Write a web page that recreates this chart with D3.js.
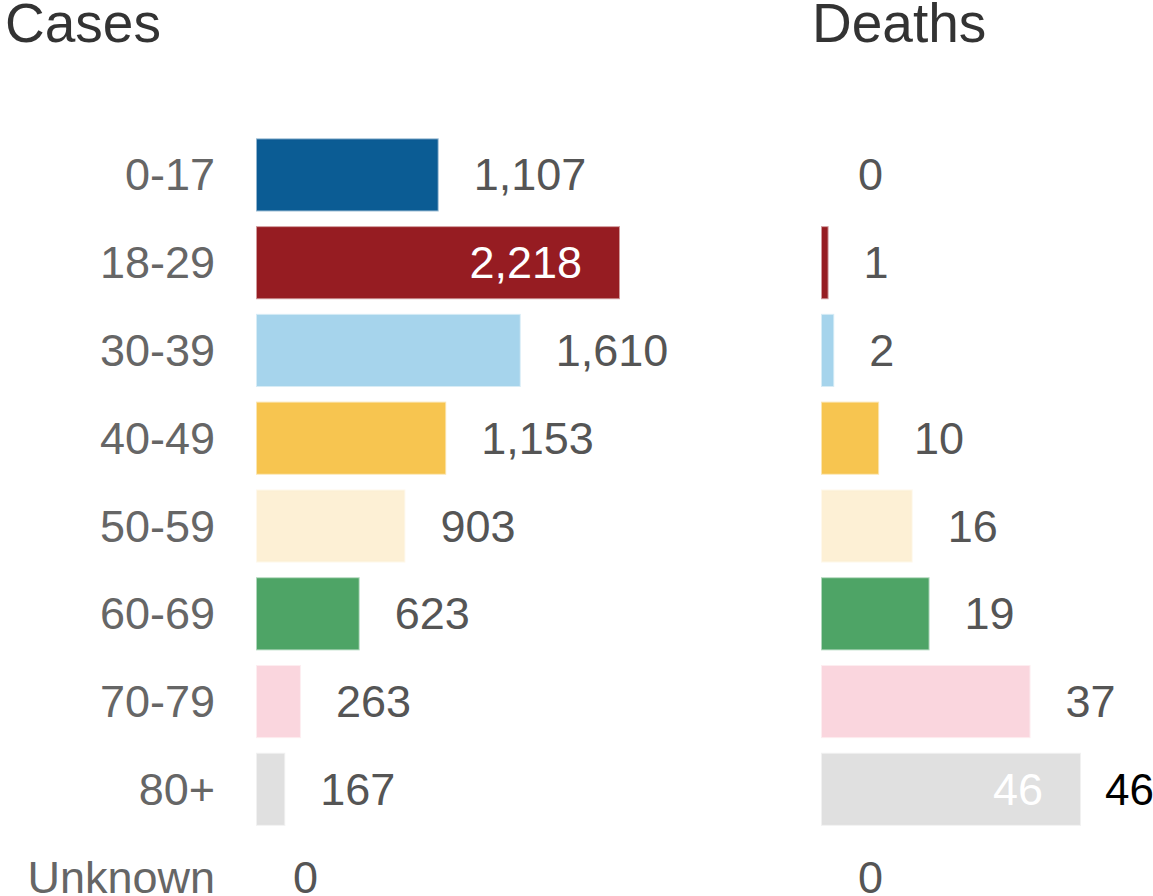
<!DOCTYPE html>
<html>
<head>
<meta charset="utf-8">
<script src="https://cdn.jsdelivr.net/npm/d3@7"></script>
<style>
  html, body { margin: 0; padding: 0; background: #fff; }
  svg { display: block; font-family: "Liberation Sans", Arial, sans-serif; }
</style>
</head>
<body>
<div id="chart"></div>
<script>
/** age groups and counts */
const ageGroups = ["0-17", "18-29", "30-39", "40-49", "50-59", "60-69", "70-79", "80+", "Unknown"];
const cases = [1107, 2218, 1610, 1153, 903, 623, 263, 167, 0];
const deaths = [0, 1, 2, 10, 16, 19, 37, 46, 0];
const groupColors = ["#0b5c94", "#961c22", "#a6d4ec", "#f7c550", "#fdf0d5", "#4ea466", "#fad6de", "#e0e0e0", "#e0e0e0"];

const width = 1153, height = 896;
const svg = d3.select("#chart").append("svg").attr("width", width).attr("height", height);

/** rows */
const y = d3.scaleBand()
  .domain(ageGroups)
  .range([131, 921])
  .paddingInner(0.19)
  .paddingOuter(0.095);

/** one panel per measure */
const panels = [
  { title: "Cases", titleX: 5, values: cases, x: d3.scaleLinear().domain([0, d3.max(cases)]).range([257, 619]) },
  { title: "Deaths", titleX: 812, values: deaths, x: d3.scaleLinear().domain([0, d3.max(deaths)]).range([822, 1080]) },
];

const fmt = d3.format(",");

for (const { title, titleX, values, x } of panels) {
  const max = d3.max(values);
  svg.append("text")
    .text(title)
    .attr("x", titleX)
    .attr("y", 42)
    .attr("font-size", 55)
    .attr("fill", "#333");

  const g = svg.append("g");
  ageGroups.forEach((group, i) => {
    const v = values[i];
    if (v > 0)
      g.append("rect")
        .attr("x", x(0))
        .attr("y", y(group))
        .attr("width", x(v) - x(0))
        .attr("height", y.bandwidth())
        .attr("fill", groupColors[i])
        .attr("stroke", groupColors[i])
        .attr("stroke-opacity", 0.45)
        .attr("stroke-width", 2);
    const inside = v === max;
    g.append("text")
      .text(fmt(v))
      .attr("x", inside ? x(v) - 37 : x(v) + 36)
      .attr("y", y(group) + y.bandwidth() / 2)
      .attr("dominant-baseline", "central")
      .attr("text-anchor", inside ? "end" : "start")
      .attr("font-size", 45)
      .attr("fill", inside ? "#fff" : "#555");
  });
}

/** category labels */
svg.append("g")
  .selectAll("text")
  .data(ageGroups)
  .join("text")
  .text((d) => d)
  .attr("x", 215)
  .attr("y", (d) => y(d) + y.bandwidth() / 2)
  .attr("dominant-baseline", "central")
  .attr("text-anchor", "end")
  .attr("font-size", 45)
  .attr("fill", "#666");

/** stray value label outside the deaths panel */
const lastDeaths = deaths[ageGroups.indexOf("80+")];
svg.append("text")
  .text(lastDeaths)
  .attr("x", 1105)
  .attr("y", y("80+") + y.bandwidth() / 2)
  .attr("dominant-baseline", "central")
  .attr("font-size", 44)
  .attr("fill", "#000");
</script>
</body>
</html>
